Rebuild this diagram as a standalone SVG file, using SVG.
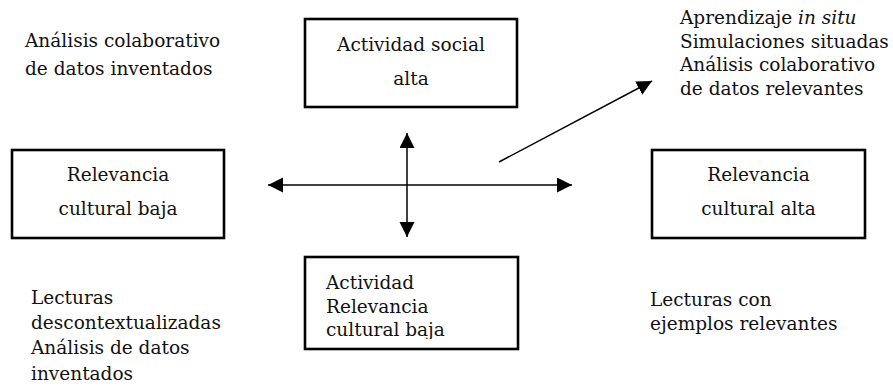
<svg xmlns="http://www.w3.org/2000/svg" width="893" height="392" viewBox="0 0 893 392">
<style>
text{font-family:"DejaVu Serif","Liberation Serif",serif;font-size:18.5px;fill:#111}
.c{text-anchor:middle}
.box{fill:#fff;stroke:#000;stroke-width:2.6}
.ln{stroke:#000;stroke-width:1.5;fill:none}
</style>
<defs>
<marker id="ah" markerUnits="userSpaceOnUse" markerWidth="16" markerHeight="16" refX="15" refY="7.5" orient="auto-start-reverse" viewBox="0 0 16 16">
<path d="M0,0 L15,7.5 L0,15 z" fill="#000"/>
</marker>
<clipPath id="clipB"><rect x="306" y="258" width="211" height="81"/></clipPath>
</defs>
<rect width="893" height="392" fill="#fff"/>

<g id="txt-top-left">
<text x="25" y="47">Análisis colaborativo</text>
<text x="25" y="75">de datos inventados</text>
</g>

<g id="node-top">
<rect class="box" x="305" y="19" width="212" height="88"/>
<text class="c" x="411" y="51">Actividad social</text>
<text class="c" x="411" y="85">alta</text>
</g>

<g id="txt-top-right">
<text x="680" y="24">Aprendizaje <tspan font-style="italic">in situ</tspan></text>
<text x="680" y="47.5">Simulaciones situadas</text>
<text x="680" y="71">Análisis colaborativo</text>
<text x="680" y="94.5">de datos relevantes</text>
</g>

<g id="node-left">
<rect class="box" x="12" y="150" width="212" height="88"/>
<text class="c" x="118" y="181">Relevancia</text>
<text class="c" x="118" y="215">cultural baja</text>
</g>

<g id="node-right">
<rect class="box" x="652" y="150" width="213" height="88"/>
<text class="c" x="758.5" y="181">Relevancia</text>
<text class="c" x="758.5" y="215">cultural alta</text>
</g>

<g id="node-bottom">
<rect class="box" x="305" y="257" width="213" height="92"/>
<g clip-path="url(#clipB)">
<text x="326" y="289">Actividad</text>
<text x="326" y="312.5">Relevancia</text>
<text x="326" y="336">cultural baja</text>
</g>
</g>

<g id="txt-bottom-left">
<text x="31" y="304">Lecturas</text>
<text x="31" y="329">descontextualizadas</text>
<text x="31" y="354">Análisis de datos</text>
<text x="31" y="380">inventados</text>
</g>

<g id="txt-bottom-right">
<text x="650" y="306">Lecturas con</text>
<text x="650" y="330">ejemplos relevantes</text>
</g>

<g id="connectors">
<line class="ln" x1="268" y1="185" x2="572" y2="185" marker-start="url(#ah)" marker-end="url(#ah)"/>
<line class="ln" x1="407" y1="133" x2="407" y2="237" marker-start="url(#ah)" marker-end="url(#ah)"/>
<line class="ln" x1="499" y1="162" x2="652" y2="81" marker-end="url(#ah)"/>
</g>
</svg>
